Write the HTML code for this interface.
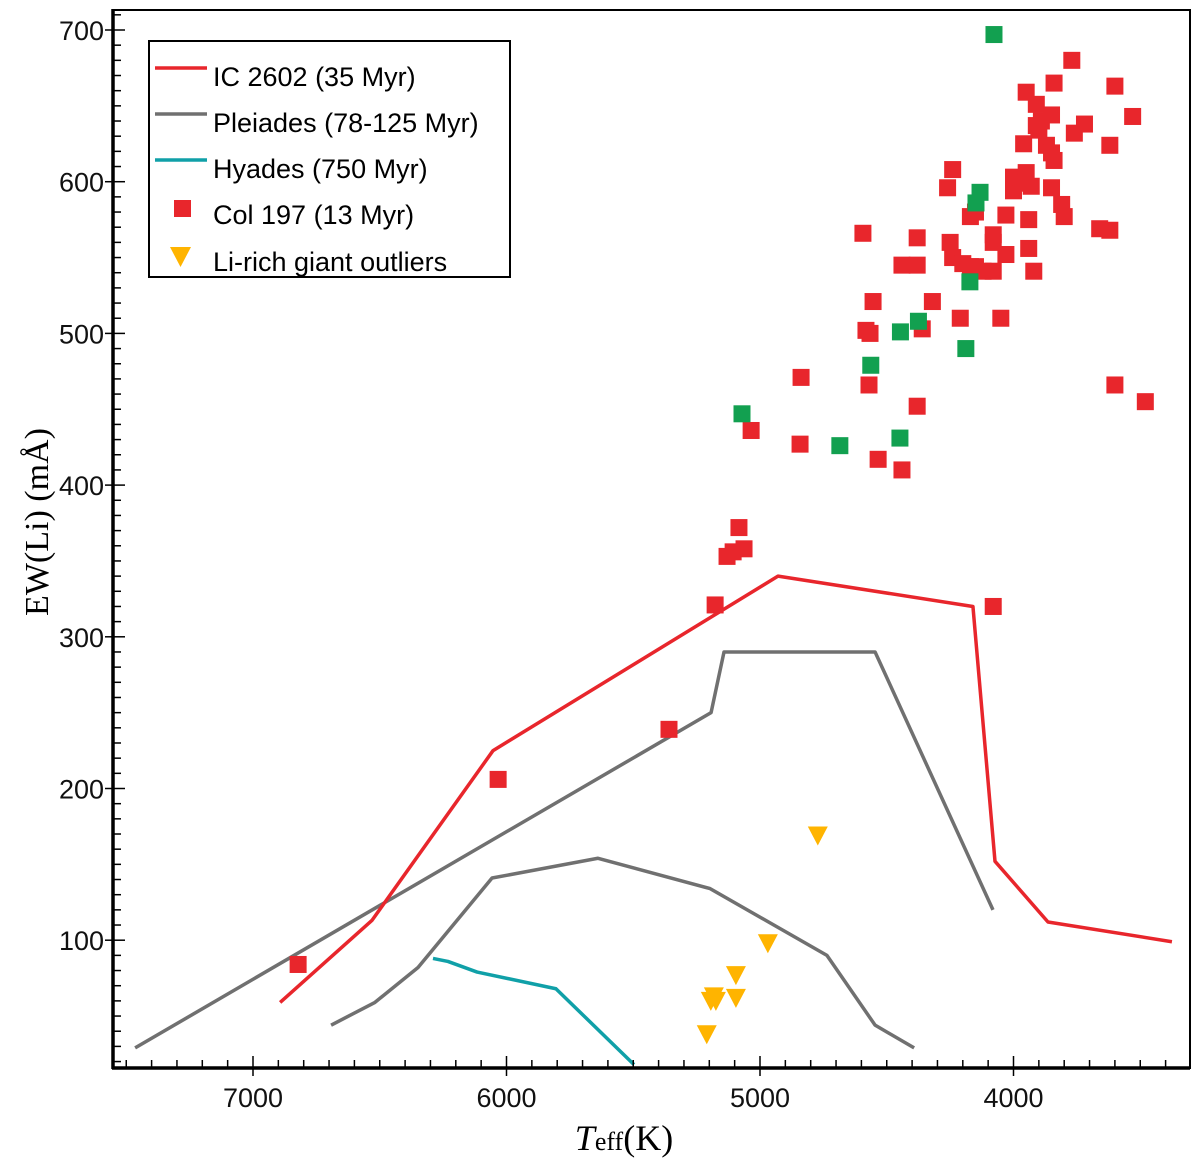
<!DOCTYPE html>
<html><head><meta charset="utf-8"><style>
body{margin:0;background:#fff;}
svg{display:block;}
text{font-family:"Liberation Sans",sans-serif;}
</style></head><body>
<svg id="chart" width="1200" height="1165" viewBox="0 0 1200 1165">
<g id="marks"></g>
<g id="axes"></g>
</svg>
<script>
const xTicks=[7000,6000,5000,4000];
const yTicks=[100,200,300,400,500,600,700];
const icT=[6893,6531,6053,4929,4160,4073,3864,3375];
const icEW=[59,113,225,340,320,152,112,99];
const plUpT=[7465,5193,5142,4546,4081];
const plUpEW=[29,250,290,290,120];
const plLoT=[6692,6519,6349,6057,5639,5197,4736,4546,4392];
const plLoEW=[44,59,82,141,154,134,90,44,29];
const hyT=[6290,6231,6116,5805,5497];
const hyEW=[88,86,79,68,18];
const colT=[6822,6033,5359,5177,5130,5106,5063,5083,5035,4842,4838,4594,4582,4566,4570,4554,4534,4440,4440,4380,4380,4380,4360,4320,4260,4240,4250,4170,4150,4240,4200,4170,4150,4210,4120,4080,4080,4080,4050,4030,4030,4000,4000,3950,3940,3920,3940,3900,3970,3960,3950,3930,3910,3890,3910,3870,3850,3850,3840,3810,3800,3770,3760,3720,3660,3620,3600,3600,3530,3480,3840,3850,4080,3620];
const colEW=[84,206,239,321,353,356,358,372,436,427,471,566,502,500,466,521,417,545,410,563,545,452,503,521,596,608,560,577,580,550,546,544,544,510,541,565,560,541,510,552,578,594,603,606,556,541,575,634,599,625,659,597,651,640,637,624,619,644,614,585,577,680,632,638,569,568,663,466,643,455,665,596,320,624];
const grT=[4077,4132,4148,4172,4375,4446,4188,4563,5071,4685,4448];
const grEW=[697,593,586,534,508,501,490,479,447,426,431];
const giT=[4772,4969,5095,5095,5174,5194,5210,5182];
const giEW=[169,98,77,62,60,60,38,63];

const L=113,R=1190,T=10,B=1068;
function X(t){return 253+(7000-t)*0.2535;}
function Y(v){return 30+(700-v)*1.517;}
const NS='http://www.w3.org/2000/svg';
const marks=document.getElementById('marks'),axes=document.getElementById('axes');
function mk(tag,at,par){const e=document.createElementNS(NS,tag);for(const k in at)e.setAttribute(k,at[k]);par.appendChild(e);return e;}
const defs=mk('defs',{},marks);const cp=mk('clipPath',{id:'pc'},defs);mk('rect',{x:L,y:T,width:R-L,height:B-T},cp);
const plot=mk('g',{'clip-path':'url(#pc)'},marks);
function line(ts,vs,col,name){
  const p=mk('polyline',{points:ts.map((t,i)=>X(t)+','+Y(vs[i])).join(' '),fill:'none',stroke:col,'stroke-width':3.5,'stroke-linejoin':'round'},plot);
  
  
}
line(plUpT,plUpEW,'#707070','pleiades-upper-line');
line(plLoT,plLoEW,'#707070','pleiades-lower-line');
line(hyT,hyEW,'#10a0a8','hyades-line');
line(icT,icEW,'#e8262c','ic2602-line');
function sq(ts,vs,col,name){ts.forEach((t,i)=>{const r=mk('rect',{x:X(t)-8.5,y:Y(vs[i])-8.5,width:17,height:17,fill:col},plot);
  
  });}
sq(colT,colEW,'#e8262c','col197-point');
sq(grT,grEW,'#12a050','green-point');
giT.forEach((t,i)=>{const x=X(t),y=Y(giEW[i]);const p=mk('polygon',{points:(x-10)+','+(y-9)+' '+(x+10)+','+(y-9)+' '+x+','+(y+10),fill:'#ffb400'},plot);
  
  });
mk('rect',{x:L,y:T,width:R-L,height:B-T,fill:'none',stroke:'#000','stroke-width':2},axes);
mk('line',{x1:L,y1:T-1,x2:L,y2:B+1,stroke:'#000','stroke-width':3.5},axes);
mk('line',{x1:L-1,y1:B,x2:R,y2:B,stroke:'#000','stroke-width':3.5},axes);
for(let t=7500;t>=3300;t-=100){const x=X(t);if(x<L||x>R)continue;const maj=t%1000===0;mk('line',{x1:x,y1:B,x2:x,y2:B-(maj?12:8),stroke:'#000','stroke-width':1.5},axes);if(maj)mk('line',{x1:x,y1:B,x2:x,y2:B+8,stroke:'#000','stroke-width':1.5},axes);}
for(let v=20;v<=710;v+=10){const y=Y(v);if(y<T||y>B)continue;const maj=v%100===0;mk('line',{x1:L,y1:y,x2:L+(maj?12:8),y2:y,stroke:'#000','stroke-width':1.5},axes);if(maj)mk('line',{x1:L-8,y1:y,x2:L,y2:y,stroke:'#000','stroke-width':1.5},axes);}
xTicks.forEach(t=>{const e=mk('text',{x:X(t),y:1107,'text-anchor':'middle','font-size':27,fill:'#111'},axes);e.textContent=t;
  
  });
yTicks.forEach(v=>{const e=mk('text',{x:104,y:Y(v)+10,'text-anchor':'end','font-size':27,fill:'#111'},axes);e.textContent=v;
  
  });
</script>
<svg width="1200" height="1165" style="position:absolute;left:0;top:0">
<text x="48" y="522" transform="rotate(-90 48 522)" text-anchor="middle" font-size="34" style="font-family:'Liberation Serif',serif">EW(Li) (mÅ)</text>
<text x="624" y="1150" text-anchor="middle" style="font-family:'Liberation Serif',serif" font-size="36"><tspan font-style="italic">T</tspan><tspan font-size="26">eff</tspan>(K)</text>
<g>
<rect x="149" y="41" width="361" height="236" fill="#fff" stroke="#000" stroke-width="2"/>
<line x1="155" y1="68" x2="207" y2="68" stroke="#e8262c" stroke-width="3.5"/>
<text x="213" y="86" font-size="27">IC 2602 (35 Myr)</text>
<line x1="155" y1="114" x2="207" y2="114" stroke="#707070" stroke-width="3.5"/>
<text x="213" y="132" font-size="27">Pleiades (78-125 Myr)</text>
<line x1="155" y1="160" x2="207" y2="160" stroke="#10a0a8" stroke-width="3.5"/>
<text x="213" y="178" font-size="27">Hyades (750 Myr)</text>
<rect x="174" y="200" width="17" height="17" fill="#e8262c"/>
<text x="213" y="224" font-size="27">Col 197 (13 Myr)</text>
<polygon points="170,247 191,247 180.5,267" fill="#ffb400"/>
<text x="213" y="271" font-size="27">Li-rich giant outliers</text>
</g>
</svg>
</body></html>
